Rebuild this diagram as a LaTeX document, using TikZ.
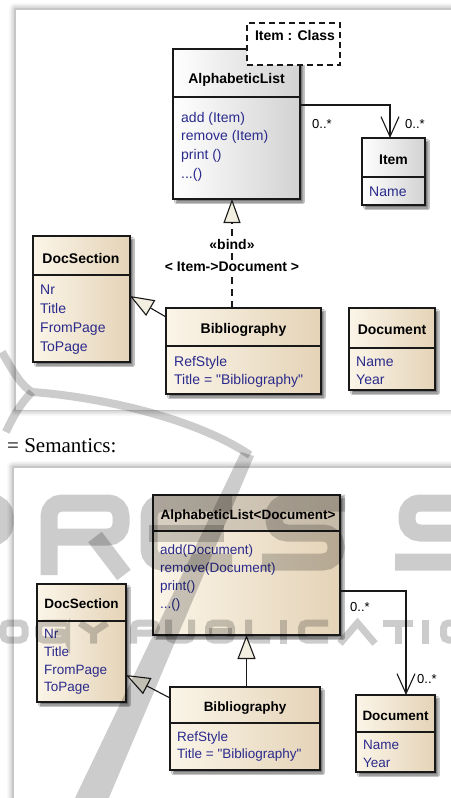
\documentclass[tikz,border=0pt]{standalone}
\usepackage{fontspec}
\setmainfont{Liberation Serif}
\newfontfamily\umlfont{Liberation Sans}
\usetikzlibrary{arrows.meta,shadows.blur,calc}
\definecolor{attrc}{RGB}{42,42,140}
\definecolor{creamL}{RGB}{251,245,232}
\definecolor{creamR}{RGB}{228,211,183}
\definecolor{greyR}{RGB}{210,210,210}
\definecolor{headL}{RGB}{216,207,194}
\definecolor{headR}{RGB}{198,186,168}
\definecolor{trifill}{RGB}{242,238,224}
\definecolor{boxc}{RGB}{25,25,25}
\begin{document}
\begin{tikzpicture}[x=1pt,y=-1pt,
  cls/.style={draw=boxc, line width=1.3pt, anchor=north west, inner sep=0pt, outer sep=0pt,
     blur shadow={shadow xshift=3pt, shadow yshift=-3pt, shadow blur radius=1.5pt, shadow opacity=55}},
  cream/.style={left color=creamL, right color=creamR},
  whitish/.style={left color=white, right color=greyR},
  sepline/.style={draw=boxc, line width=1.1pt},
  ttl/.style={font=\umlfont\bfseries\fontsize{14}{16}\selectfont, anchor=base, inner sep=0pt},
  attr/.style={font=\umlfont\fontsize{14}{16}\selectfont, text=attrc, anchor=base west, inner sep=0pt},
  ttlb/.style={font=\umlfont\bfseries\fontsize{13.5}{16}\selectfont, anchor=base, inner sep=0pt},
  attrb/.style={font=\umlfont\fontsize{13.5}{16}\selectfont, text=attrc, anchor=base west, inner sep=0pt},
  mult/.style={font=\umlfont\fontsize{13}{15}\selectfont, anchor=base west, inner sep=0pt},
  conn/.style={draw=boxc, line width=1.1pt},
  gen/.style={conn, -{Triangle[length=24pt,width=18pt,fill=trifill]}},
  assoc/.style={conn, -{Straight Barb[length=20pt,width=18pt]}},
  panel/.style={fill=white, draw=black!22, line width=0.8pt,
     blur shadow={shadow xshift=0pt, shadow yshift=0pt, shadow blur radius=6pt, shadow opacity=45}},
  bigwm/.style={draw=black, line width=17pt, rounded corners=13pt},
  smallwm/.style={draw=black, line width=7pt, rounded corners=5pt},
]
\useasboundingbox (0,0) rectangle (450,798);

% panels
\path[panel] (15,9) rectangle (475,410);
\path[panel] (13,467) rectangle (475,820);

\node[font=\fontsize{21}{24}\selectfont, anchor=base west, inner sep=0pt] (sem) at (7,452) {= Semantics:};

% ===== top diagram =====
\node[cls, whitish, minimum width=127pt, minimum height=150pt] (al) at (173,49) {};
\draw[sepline] (al.west |- 0,97) -- (al.east |- 0,97);
\node[ttl] (alt) at (236.5,83) {AlphabeticList};
\node[attr] (ala1) at (181,122) {add (Item)};
\node[attr] (ala2) at (181,140.7) {remove (Item)};
\node[attr] (ala3) at (181,159.4) {print ()};
\node[attr] (ala4) at (181,178.1) {...()};

\node[draw=boxc, fill=white, dash pattern=on 6pt off 4pt, line width=1.3pt, anchor=north west,
      minimum width=93pt, minimum height=42pt, inner sep=0pt, outer sep=0pt] (tpl) at (247,23) {};
\node[ttl] (tplt) at (295,40) {Item : Class};

\node[cls, whitish, minimum width=63pt, minimum height=67pt] (item) at (362,138) {};
\draw[sepline] (item.west |- 0,177) -- (item.east |- 0,177);
\node[ttl] (itemt) at (393.5,164) {Item};
\node[attr] (itema1) at (369,196) {Name};

\node[cls, cream, minimum width=97pt, minimum height=126pt] (ds) at (33,236) {};
\draw[sepline] (ds.west |- 0,275) -- (ds.east |- 0,275);
\node[ttl] (dst) at (81,263) {DocSection};
\node[attr] (dsa1) at (40,294) {Nr};
\node[attr] (dsa2) at (40,313) {Title};
\node[attr] (dsa3) at (40,332) {FromPage};
\node[attr] (dsa4) at (40,351) {ToPage};

\node[cls, cream, minimum width=155pt, minimum height=86pt] (bib) at (166,308) {};
\draw[sepline] (bib.west |- 0,346) -- (bib.east |- 0,346);
\node[ttl] (bibt) at (243.5,333) {Bibliography};
\node[attr] (biba1) at (174,366) {RefStyle};
\node[attr] (biba2) at (174,384) {Title = "Bibliography"};

\node[cls, cream, minimum width=86pt, minimum height=82pt] (doc) at (349,308) {};
\draw[sepline] (doc.west |- 0,348) -- (doc.east |- 0,348);
\node[ttl] (doct) at (392,334) {Document};
\node[attr] (doca1) at (356,366) {Name};
\node[attr] (doca2) at (356,384) {Year};

% connectors top
\coordinate (ax1) at (390,0);
\draw[assoc] (al.east |- 0,105) -| (item.north -| ax1);
\node[mult] (m1) at (312,128) {0..*};
\node[mult] (m2) at (405,128) {0..*};

\coordinate (bx) at (232,0);
\draw[conn, dash pattern=on 7pt off 5pt, -{Triangle[length=24pt,width=17pt,fill=trifill]}] (bib.north -| bx) -- (al.south -| bx);
\node[ttl, fill=white, inner sep=1pt] (bind1) at (232,249) {«bind»};
\node[ttl, fill=white, inner sep=1pt] (bind2) at (232,271) {< Item->Document >};

\draw[gen] (bib.west |- 0,317) -- (ds.east |- 0,296);

% ===== bottom diagram =====
\node[cls, cream, minimum width=187pt, minimum height=140pt] (al2) at (153,495) {};
\fill[left color=headL, right color=headR] (al2.north west) rectangle (al2.east |- 0,531);
\draw[sepline] (al2.west |- 0,531) -- (al2.east |- 0,531);
\draw[draw=boxc, line width=1.3pt] (al2.north west) rectangle (al2.south east);
\node[ttlb] (al2t) at (248,519) {AlphabeticList<Document>};
\node[attrb] (al2a1) at (160,554) {add(Document)};
\node[attrb] (al2a2) at (160,572) {remove(Document)};
\node[attrb] (al2a3) at (160,590) {print()};
\node[attrb] (al2a4) at (160,608) {...()};

\node[cls, cream, minimum width=89pt, minimum height=118pt] (ds2) at (37,584) {};
\draw[sepline] (ds2.west |- 0,621) -- (ds2.east |- 0,621);
\node[ttlb] (ds2t) at (81.5,608) {DocSection};
\node[attrb] (ds2a1) at (44,638) {Nr};
\node[attrb] (ds2a2) at (44,656) {Title};
\node[attrb] (ds2a3) at (44,674) {FromPage};
\node[attrb] (ds2a4) at (44,691) {ToPage};

\node[cls, cream, minimum width=150pt, minimum height=83pt] (bib2) at (170,687) {};
\draw[sepline] (bib2.west |- 0,723) -- (bib2.east |- 0,723);
\node[ttlb] (bib2t) at (245,711) {Bibliography};
\node[attrb] (bib2a1) at (177,741) {RefStyle};
\node[attrb] (bib2a2) at (177,758) {Title = "Bibliography"};

\node[cls, cream, minimum width=79pt, minimum height=77pt] (doc2) at (356,695) {};
\draw[sepline] (doc2.west |- 0,732) -- (doc2.east |- 0,732);
\node[ttlb] (doc2t) at (395.5,720) {Document};
\node[attrb] (doc2a1) at (363,749) {Name};
\node[attrb] (doc2a2) at (363,767) {Year};

% connectors bottom
\draw[gen] (bib2.north -| al2.south) -- (al2.south);
\draw[gen] (bib2.west |- 0,698) -- (ds2.east |- 0,675);
\coordinate (ax2) at (406,0);
\draw[assoc] (al2.east |- 0,591) -| (doc2.north -| ax2);
\node[mult] (m3) at (350,611) {0..*};
\node[mult] (m4) at (417,683) {0..*};

% ===== watermark (logo shapes) =====
\begin{scope}[opacity=0.2]
  \draw[line width=8pt, black] (2,352) .. controls (15,375) and (22,386) .. (32,392)
        .. controls (90,396) and (190,415) .. (250,455);
  \draw[line width=8pt, black] (32,392) .. controls (22,402) and (14,414) .. (6,432);
  \fill[black] (241,452) -- (254,456) -- (108,800) -- (74,800) -- cycle;
  % big letters
  \draw[bigwm] (-40,503) -- (5,503) -- (5,537) -- (-40,537);
  \draw[bigwm] (49,575) -- (49,503) -- (121,503) -- (121,537) -- (49,537);
  \draw[draw=black, line width=17pt] (95,537) -- (124,575);
  \draw[bigwm] (232,503) -- (149,503) -- (149,562) -- (232,562);
  \draw[draw=black, line width=17pt] (149,533) -- (224,533);
  \draw[bigwm] (345,503) -- (274,503) -- (274,533) -- (336,533) -- (336,562) -- (262,562);
  \draw[bigwm] (478,503) -- (407,503) -- (407,533) -- (469,533) -- (469,562) -- (395,562);
  % small letters
  \draw[smallwm] (3,623) rectangle (25,640);
  \draw[smallwm] (67,623) -- (38.5,623) -- (38.5,640) -- (66.5,640) -- (66.5,632) -- (55,632);
  \draw[draw=black, line width=7pt] (80,623) -- (93.5,632) -- (107,623) (93.5,632) -- (93.5,643.5);
  \draw[smallwm] (133.5,643.5) -- (133.5,623) -- (156.5,623) -- (156.5,633) -- (133.5,633);
  \draw[smallwm] (168.5,619.5) -- (168.5,640) -- (191.5,640) -- (191.5,619.5);
  \draw[smallwm] (208.5,623) rectangle (231.5,640);
  \draw[draw=black, line width=7pt] (208.5,631.5) -- (231.5,631.5);
  \draw[smallwm] (248.5,619.5) -- (248.5,640) -- (270,640);
  \draw[draw=black, line width=7pt] (283.5,619.5) -- (283.5,643.5);
  \draw[smallwm] (328,623) -- (301.5,623) -- (301.5,640) -- (328,640);
  \draw[draw=black, line width=7pt] (340,643.5) -- (357.5,623) -- (375,643.5);
  \draw[draw=black, line width=7pt] (383,623) -- (413,623) (398,623) -- (398,643.5);
  \draw[draw=black, line width=7pt] (425.5,619.5) -- (425.5,643.5);
  \draw[smallwm] (443.5,623) rectangle (468.5,640);
\end{scope}
\end{tikzpicture}
\end{document}
